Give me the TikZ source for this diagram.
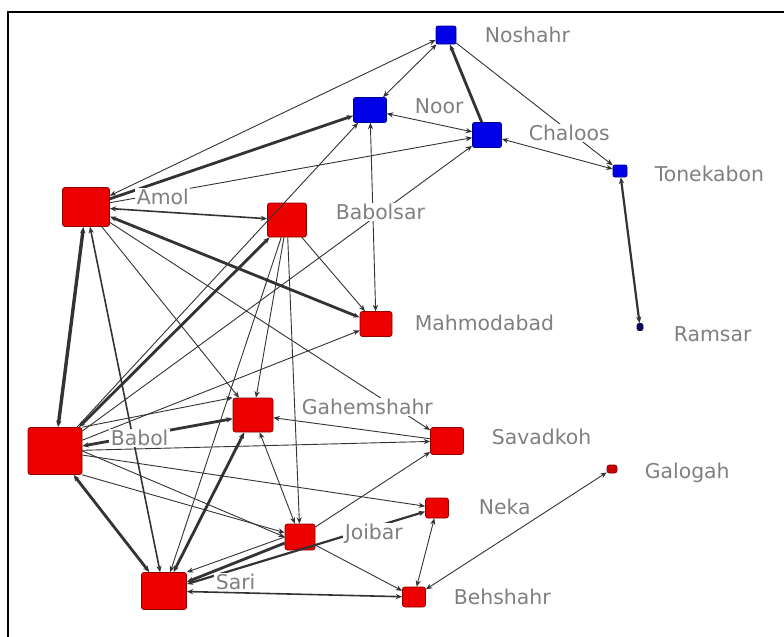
\documentclass[tikz,border=0pt]{standalone}
\usepackage{fontspec}
\setmainfont{DejaVu Sans}
\usetikzlibrary{arrows.meta}
\definecolor{cityred}{RGB}{236,0,0}
\definecolor{cityblue}{RGB}{0,0,232}
\definecolor{tinynavy}{RGB}{10,10,90}
\definecolor{taggray}{RGB}{128,128,128}
\tikzset{
  city/.style={draw=red!55!black, fill=cityred, rounded corners=1.2pt, inner sep=0pt, line width=0.35pt},
  coast/.style={draw=blue!55!black, fill=cityblue, rounded corners=1pt, inner sep=0pt, line width=0.35pt},
  name tag/.style={anchor=west, text=taggray, fill=white, inner sep=0.7pt, font=\fontsize{10.2}{12}\selectfont},
  tie/.style={draw=black!80, line width=0.45pt, -{Stealth[length=3.2pt,width=2.6pt]}},
  mutual/.style={tie, {Stealth[length=3.2pt,width=2.6pt]}-{Stealth[length=3.2pt,width=2.6pt]}},
  medium/.style={line width=0.8pt},
  heavy/.style={line width=1.4pt},
}
\begin{document}
\begin{tikzpicture}[x=0.5pt, y=-0.5pt]
    \useasboundingbox (0,0) rectangle (784,637);
    \draw[line width=1.2pt] (8,640) -- (8,12) -- (786,12);

    % blue towns
    \node[coast, minimum width=10pt, minimum height=9pt] (noshahr) at (446,35) {};
    \node[coast, minimum width=16.5pt, minimum height=12.5pt] (noor) at (370,110) {};
    \node[coast, minimum width=14.5pt, minimum height=12.5pt] (chaloos) at (487,135) {};
    \node[coast, minimum width=7pt, minimum height=6pt] (tonekabon) at (620,171) {};
    \node[coast, fill=tinynavy, draw=tinynavy, minimum width=3pt, minimum height=3.5pt] (ramsar) at (640,327) {};

    % red towns
    \node[city, minimum width=23.5pt, minimum height=19.5pt] (amol) at (86,207) {};
    \node[city, minimum width=19.5pt, minimum height=17pt] (babolsar) at (287,220) {};
    \node[city, minimum width=16pt, minimum height=12.5pt] (mahmodabad) at (376,324) {};
    \node[city, minimum width=20pt, minimum height=17pt] (gahemshahr) at (253,415) {};
    \node[city, minimum width=27pt, minimum height=23.5pt] (babol) at (55,451) {};
    \node[city, minimum width=16.5pt, minimum height=13.5pt] (savadkoh) at (447,441) {};
    \node[city, fill=red!80!black, minimum width=5pt, minimum height=4pt] (galogah) at (612,469) {};
    \node[city, minimum width=11.5pt, minimum height=10pt] (neka) at (437,508) {};
    \node[city, minimum width=15pt, minimum height=13pt] (joibar) at (300,537) {};
    \node[city, minimum width=22.5pt, minimum height=18.5pt] (sari) at (164,591) {};
    \node[city, minimum width=11.5pt, minimum height=10pt] (behshahr) at (414,597) {};

    % ties along the coast
    \draw[mutual] (amol) -- (noshahr);
    \draw[tie, heavy] (amol) -- (noor);
    \draw[tie] (amol) -- (chaloos);
    \draw[mutual] (noor) -- (noshahr);
    \draw[tie, heavy] (chaloos) -- (noshahr);
    \draw[tie] (noshahr) -- (tonekabon);
    \draw[mutual] (chaloos) -- (noor);
    \draw[mutual] (chaloos) -- (tonekabon);
    \draw[mutual, line width=1.1pt] (tonekabon) -- (ramsar);
    \draw[tie] (babol) -- (noor);
    \draw[mutual] (mahmodabad) -- (noor);
    \draw[tie] (babol) -- (chaloos);

    % ties around Amol and Babol
    \draw[mutual, medium] (amol) -- (babolsar);
    \draw[mutual, heavy] (amol) -- (mahmodabad);
    \draw[mutual, line width=1.7pt] (amol) -- (babol);
    \draw[mutual, medium] (amol) -- (sari);
    \draw[tie] (amol) -- (gahemshahr);
    \draw[tie] (amol) -- (savadkoh);
    \draw[mutual, heavy] (babol) -- (babolsar);
    \draw[tie] (babolsar) -- (sari);
    \draw[tie] (babolsar) -- (gahemshahr);
    \draw[tie] (babolsar) -- (joibar);
    \draw[tie] (babolsar) -- (mahmodabad);
    \draw[tie] (babol) -- (mahmodabad);
    \draw[mutual, heavy] (babol) -- (gahemshahr);
    \draw[tie] (babol.north east) -- (gahemshahr.north west);
    \draw[tie] (babol) -- (savadkoh);
    \draw[tie] (babol) -- (neka);
    \draw[tie] (babol.east) -- (joibar.west);
    \draw[tie] (babol.south east) -- (joibar);
    \draw[mutual, heavy] (babol) -- (sari);

    % ties in the south
    \draw[mutual, heavy] (gahemshahr) -- (sari);
    \draw[tie] (savadkoh) -- (gahemshahr);
    \draw[tie] (joibar) -- (savadkoh);
    \draw[mutual] (gahemshahr) -- (joibar);
    \draw[tie, heavy] (joibar) -- (sari);
    \draw[tie] (joibar.west) -- (sari.north east);
    \draw[mutual, line width=1.1pt] (sari) -- (neka);
    \draw[mutual, medium] (sari) -- (behshahr);
    \draw[tie] (joibar) -- (behshahr);
    \draw[mutual] (neka) -- (behshahr);
    \draw[mutual] (galogah) -- (behshahr);

    % names
    \node[name tag] (noshahrName) at (483,35) {Noshahr};
    \node[name tag] (noorName) at (413,106) {Noor};
    \node[name tag] (chaloosName) at (527,133) {Chaloos};
    \node[name tag] (tonekabonName) at (653,174) {Tonekabon};
    \node[name tag] (ramsarName) at (672,334) {Ramsar};
    \node[name tag] (amolName) at (135,197) {Amol};
    \node[name tag] (babolsarName) at (334,212) {Babolsar};
    \node[name tag] (mahmodabadName) at (413,323) {Mahmodabad};
    \node[name tag] (gahemshahrName) at (300,407) {Gahemshahr};
    \node[name tag] (babolName) at (109,438) {Babol};
    \node[name tag] (savadkohName) at (490,437) {Savadkoh};
    \node[name tag] (galogahName) at (643,473) {Galogah};
    \node[name tag] (nekaName) at (477,507) {Neka};
    \node[name tag] (joibarName) at (343,534) {Joibar};
    \node[name tag] (sariName) at (214,582) {Sari};
    \node[name tag] (behshahrName) at (452,597) {Behshahr};
\end{tikzpicture}
\end{document}
